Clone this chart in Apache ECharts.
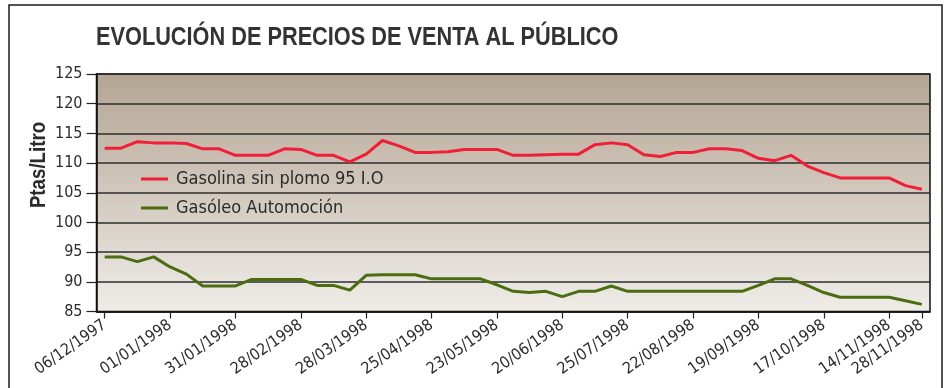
<!DOCTYPE html>
<html>
<head>
<meta charset="utf-8">
<script src="https://cdn.jsdelivr.net/npm/echarts@6/dist/echarts.min.js"></script>
<style>
  html, body { margin: 0; padding: 0; background: #ffffff; }
  #chart { width: 950px; height: 388px; }
</style>
</head>
<body>
<div id="chart"></div>
<script>
// Weekly sampling points; only some carry a date label on the axis
const categories = [
  '06/12/1997', '', '', '',
  '01/01/1998', '', '', '',
  '31/01/1998', '', '', '',
  '28/02/1998', '', '', '',
  '28/03/1998', '', '', '',
  '25/04/1998', '', '', '',
  '23/05/1998', '', '', '',
  '20/06/1998', '', '', '',
  '25/07/1998', '', '', '',
  '22/08/1998', '', '', '',
  '19/09/1998', '', '', '',
  '17/10/1998', '', '', '',
  '14/11/1998', '',
  '28/11/1998'
];

// Pesetas per litre
const gasolina = [
  112.5, 112.5, 113.6, 113.4, 113.4, 113.3, 112.4, 112.4, 111.3, 111.3,
  111.3, 112.4, 112.3, 111.3, 111.3, 110.2, 111.5, 113.8, 112.9, 111.8,
  111.8, 111.9, 112.3, 112.3, 112.3, 111.3, 111.3, 111.4, 111.5, 111.5,
  113.1, 113.4, 113.1, 111.4, 111.1, 111.8, 111.8, 112.4, 112.4, 112.1,
  110.8, 110.4, 111.3, 109.5, 108.4, 107.5, 107.5, 107.5, 107.5, 106.2,
  105.6
];
const gasoleo = [
  94.2, 94.2, 93.4, 94.2, 92.5, 91.3, 89.3, 89.3, 89.3, 90.4,
  90.4, 90.4, 90.4, 89.4, 89.4, 88.6, 91.1, 91.2, 91.2, 91.2,
  90.5, 90.5, 90.5, 90.5, 89.5, 88.4, 88.2, 88.4, 87.5, 88.4,
  88.4, 89.3, 88.4, 88.4, 88.4, 88.4, 88.4, 88.4, 88.4, 88.4,
  89.4, 90.5, 90.5, 89.4, 88.2, 87.4, 87.4, 87.4, 87.4, 86.8,
  86.2
];

const seriesNames = ['Gasolina sin plomo 95 I.O', 'Gasóleo Automoción'];
const titleText = 'EVOLUCIÓN DE PRECIOS DE VENTA AL PÚBLICO';
const yAxisTitle = 'Ptas/Litro';

const CONDENSED = '"DejaVu Sans Condensed", "Liberation Sans", sans-serif';
const SANS = '"Liberation Sans", Arial, sans-serif';
const TEXT = '#2b2b2b';

const chart = echarts.init(document.getElementById('chart'), null, { renderer: 'canvas' });

chart.setOption({
  animation: false,
  backgroundColor: '#ffffff',
  graphic: [
    {
      // outer frame
      type: 'rect',
      shape: { x: 9, y: 5, width: 933, height: 400 },
      style: { fill: 'none', stroke: '#1a1a1a', lineWidth: 1.5 },
      silent: true,
      z: -1
    },
    {
      // heading, set in a horizontally compressed face
      type: 'text',
      x: 96,
      y: 38,
      scaleX: 0.82,
      style: {
        text: titleText,
        fontFamily: SANS,
        fontWeight: 'bold',
        fontSize: 26.5,
        fill: '#333333',
        align: 'left',
        verticalAlign: 'middle'
      }
    },
    {
      // value axis title
      type: 'text',
      x: 39,
      y: 165,
      rotation: Math.PI / 2,
      scaleX: 0.85,
      style: {
        text: yAxisTitle,
        fontFamily: SANS,
        fontWeight: 'bold',
        fontSize: 22,
        fill: TEXT,
        align: 'center',
        verticalAlign: 'middle'
      }
    }
  ],
  legend: {
    orient: 'vertical',
    left: 136,
    top: 165,
    itemWidth: 27,
    itemHeight: 3,
    itemGap: 11,
    icon: 'rect',
    textStyle: {
      fontFamily: CONDENSED,
      fontSize: 18,
      color: TEXT,
      padding: [0, 0, 0, 3]
    },
    data: seriesNames
  },
  grid: {
    left: 96.5,
    right: 20,
    top: 74,
    bottom: 76.5,
    show: true,
    borderColor: '#111111',
    borderWidth: 1.5,
    backgroundColor: new echarts.graphic.LinearGradient(0, 0, 0, 1, [
      { offset: 0, color: '#b4a593' },
      { offset: 0.5, color: '#d2c8bd' },
      { offset: 1, color: '#efede9' }
    ])
  },
  xAxis: {
    type: 'category',
    data: categories,
    boundaryGap: true,
    axisLine: { show: true, lineStyle: { color: '#111111', width: 1.5 } },
    axisTick: {
      show: true,
      alignWithLabel: true,
      length: 7,
      interval: (i, v) => v !== '',
      lineStyle: { color: '#222222', width: 1.2 }
    },
    axisLabel: {
      interval: 0,
      rotate: 35,
      margin: 12,
      fontFamily: CONDENSED,
      fontSize: 16,
      color: TEXT
    },
    splitLine: { show: false }
  },
  yAxis: {
    type: 'value',
    min: 85,
    max: 125,
    interval: 5,
    axisLine: { show: true, lineStyle: { color: '#111111', width: 1.5 } },
    axisTick: { show: true, inside: false, length: 10, lineStyle: { color: '#222222', width: 1.2 } },
    axisLabel: {
      margin: 14,
      fontFamily: CONDENSED,
      fontSize: 16,
      color: TEXT
    },
    splitLine: { show: true, lineStyle: { color: '#2e2e2e', width: 1.5 } }
  },
  series: [
    {
      name: seriesNames[0],
      type: 'line',
      data: gasolina,
      symbol: 'none',
      color: '#f01e37',
      lineStyle: { width: 3, color: '#f01e37' }
    },
    {
      name: seriesNames[1],
      type: 'line',
      data: gasoleo,
      symbol: 'none',
      color: '#4b6d10',
      lineStyle: { width: 3, color: '#4b6d10' }
    }
  ]
});
</script>
</body>
</html>
